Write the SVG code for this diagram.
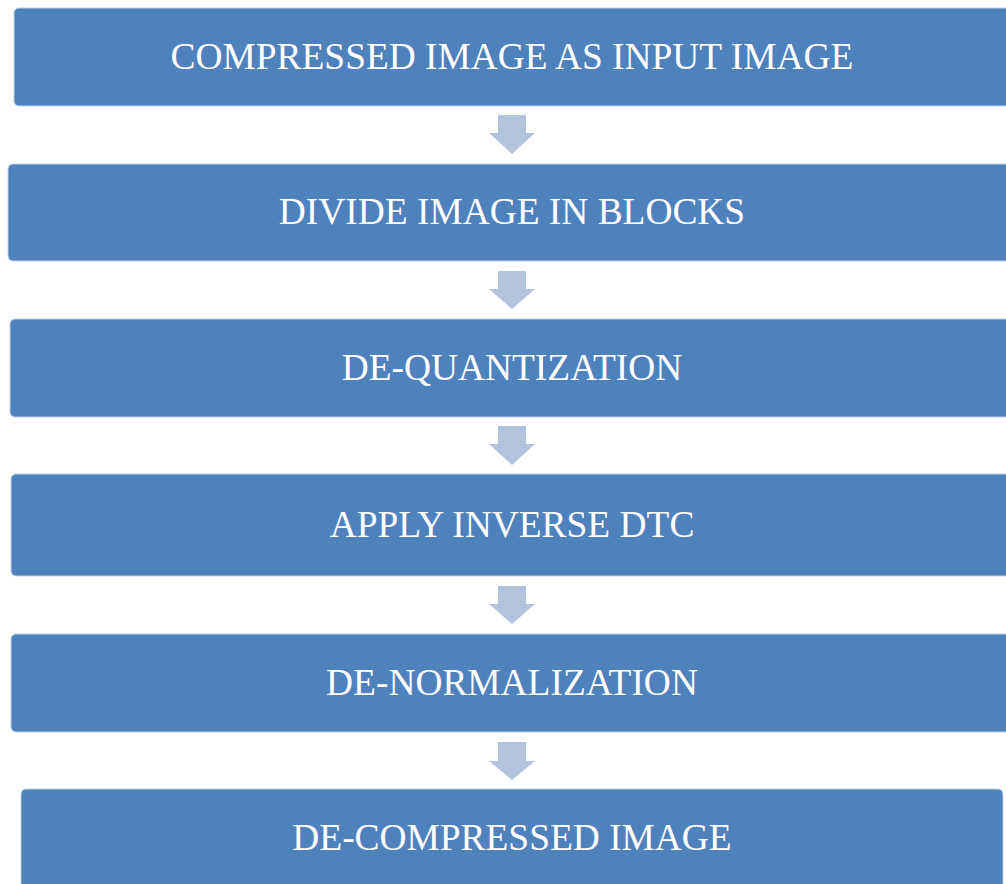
<svg xmlns="http://www.w3.org/2000/svg" width="1006" height="884" viewBox="0 0 1006 884">
  <style>
    .box { fill: #4F81BD; stroke: #BFD0E6; stroke-width: 1; }
    .label { font-family: "Liberation Serif", "Times New Roman", serif; font-size: 37.4px; fill: #FFFFFF; text-anchor: middle; }
    .arrow { fill: #B3C3DE; }
  </style>
  <rect width="1006" height="884" fill="#FFFFFF"/>

  <!-- step boxes -->
  <g id="step-input">
    <rect class="box" x="14" y="8" width="996" height="98" rx="5"/>
    <text class="label" x="512" y="68.5">COMPRESSED IMAGE AS INPUT IMAGE</text>
  </g>
  <g id="step-blocks">
    <rect class="box" x="8" y="164" width="1008" height="97" rx="5"/>
    <text class="label" x="512" y="224">DIVIDE IMAGE IN BLOCKS</text>
  </g>
  <g id="step-dequant">
    <rect class="box" x="10" y="319" width="1004" height="98" rx="5"/>
    <text class="label" x="512" y="380">DE-QUANTIZATION</text>
  </g>
  <g id="step-idct">
    <rect class="box" x="11" y="474" width="1002" height="102" rx="5"/>
    <text class="label" x="512" y="537">APPLY INVERSE DTC</text>
  </g>
  <g id="step-denorm">
    <rect class="box" x="11" y="634" width="1002" height="98" rx="5"/>
    <text class="label" x="512" y="695">DE-NORMALIZATION</text>
  </g>
  <g id="step-output">
    <rect class="box" x="21" y="789" width="982" height="110" rx="5"/>
    <text class="label" x="512" y="850">DE-COMPRESSED IMAGE</text>
  </g>

  <!-- block arrows between steps -->
  <g id="connectors">
    <path class="arrow" d="M498 115 H526 V133 H535 L512 154 L489 133 H498 Z"/>
    <path class="arrow" d="M498 271 H526 V289 H535 L512 309 L489 289 H498 Z"/>
    <path class="arrow" d="M498 426 H526 V444 H535 L512 465 L489 444 H498 Z"/>
    <path class="arrow" d="M498 586 H526 V604 H535 L512 624 L489 604 H498 Z"/>
    <path class="arrow" d="M498 742 H526 V761 H535 L512 780 L489 761 H498 Z"/>
  </g>
</svg>
